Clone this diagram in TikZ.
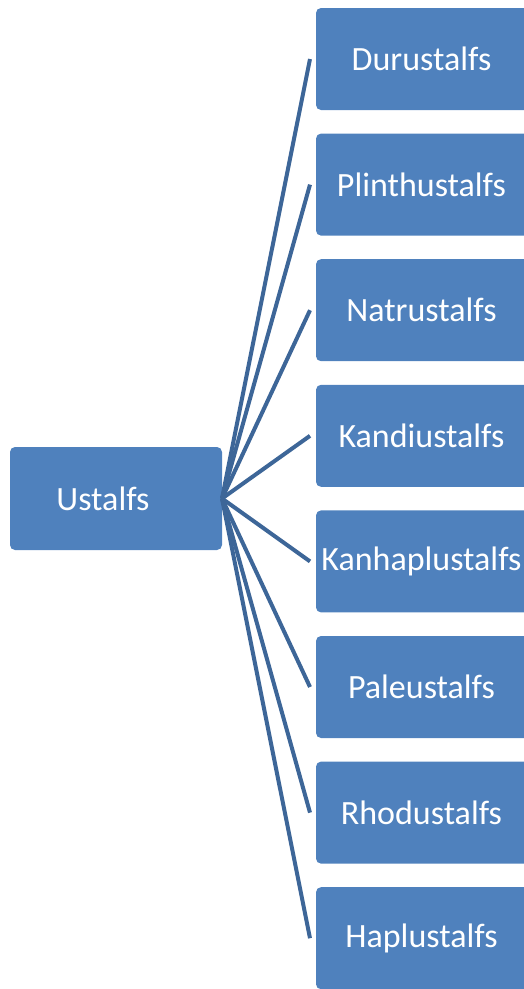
\documentclass[tikz,border=0pt]{standalone}
\usepackage{fontspec}
\setmainfont{Carlito}
\definecolor{boxfill}{HTML}{4F81BD}
\definecolor{linecol}{HTML}{3D6698}
\begin{document}
\begin{tikzpicture}[x=1pt,y=-1pt,
  box/.style={fill=boxfill, rounded corners=5pt, inner sep=0pt},
  lbl/.style={text=white, font=\fontsize{34}{40}\selectfont, inner sep=0pt},
  conn/.style={draw=linecol, line width=4pt}]
\useasboundingbox (0,0) rectangle (523,989);
\node[box, minimum width=212pt, minimum height=103pt] (root) at (116,498.5) {};
\node[lbl] (rootlbl) at (103,498.5) {Ustalfs};
\coordinate (hub) at (222,498.5);
\foreach \t [count=\i] in {Durustalfs,Plinthustalfs,Natrustalfs,Kandiustalfs,Kanhaplustalfs,Paleustalfs,Rhodustalfs,Haplustalfs} {
  \pgfmathsetmacro{\cy}{59+(\i-1)*125.6}
  \node[box, minimum width=214pt, minimum height=102pt] (c\i) at (423,\cy) {};
  \node[lbl] (l\i) at (421.5,\cy) {\t};
  \coordinate (e\i) at (310,\cy);
  \draw[conn] (hub) -- (e\i);
}
\end{tikzpicture}
\end{document}
